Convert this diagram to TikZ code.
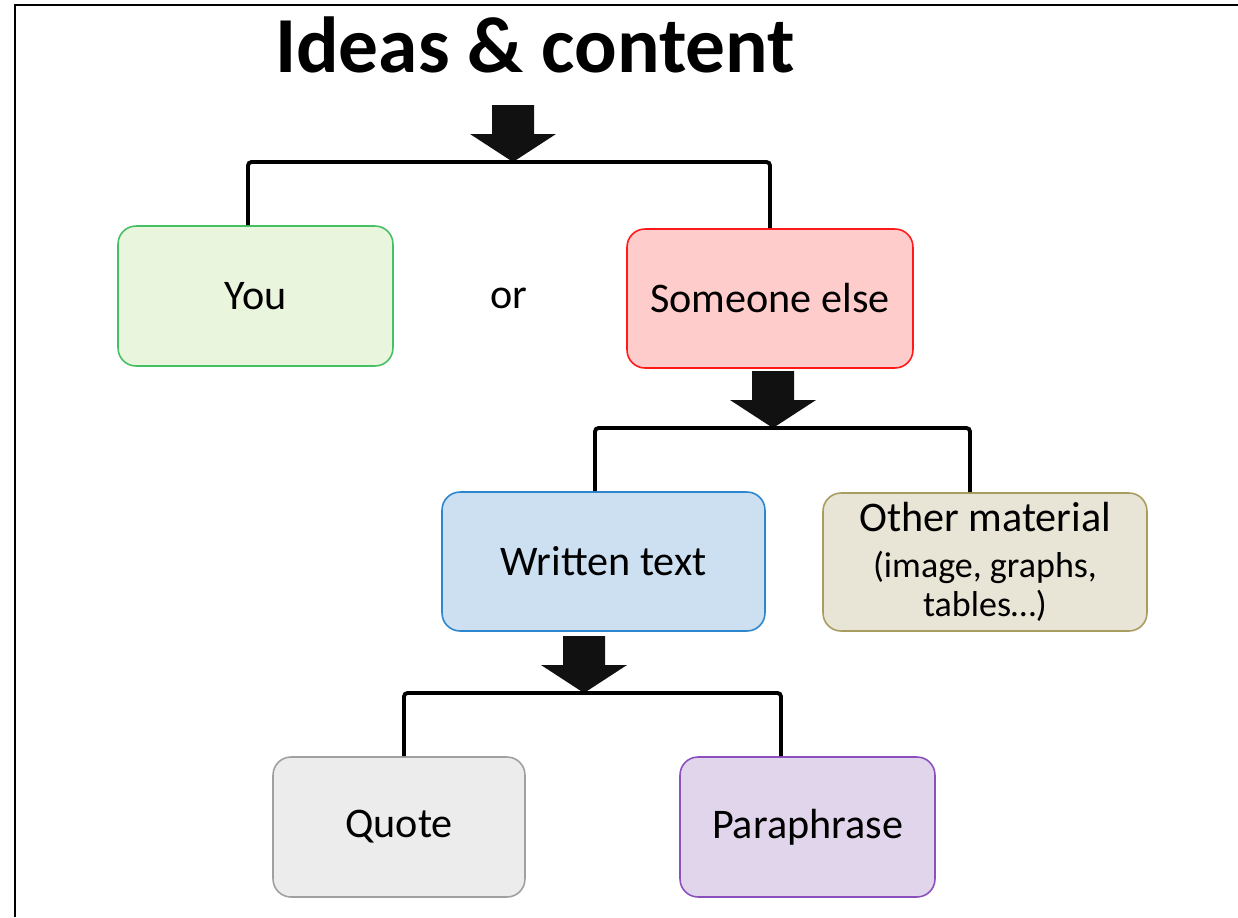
\documentclass[tikz,border=0pt]{standalone}
\usepackage{fontspec}
\setmainfont{Carlito}
\usepackage{tikz}

\definecolor{youfill}{RGB}{233,245,220}
\definecolor{youline}{RGB}{70,192,100}
\definecolor{elsefill}{RGB}{255,204,204}
\definecolor{elseline}{RGB}{255,25,25}
\definecolor{textfill}{RGB}{204,224,242}
\definecolor{textline}{RGB}{46,134,206}
\definecolor{otherfill}{RGB}{233,229,214}
\definecolor{otherline}{RGB}{168,157,96}
\definecolor{quotefill}{RGB}{236,236,236}
\definecolor{quoteline}{RGB}{160,160,160}
\definecolor{parafill}{RGB}{225,213,235}
\definecolor{paraline}{RGB}{140,80,190}
\definecolor{arrowblack}{RGB}{17,17,17}

\newcommand{\boxfont}{\fontsize{24}{26}\selectfont}
\newcommand{\smallfont}{\fontsize{20.5}{22}\selectfont}

\tikzset{
  choice/.style={draw,line width=0.9pt,rounded corners=0.36cm,align=center,font=\boxfont},
  fork/.style={line width=2.2pt,rounded corners=2pt},
  bigarrow/.style={fill=arrowblack}
}

% block arrow, tip at the given point
\newcommand{\blockarrow}[1]{
  \fill[bigarrow] (#1) -- ++(-43,-28) -- ++(22,0) -- ++(0,-29) -- ++(42,0)
    -- ++(0,29) -- ++(22,0) -- cycle;
}

\begin{document}
\begin{tikzpicture}[x=0.02cm,y=-0.02cm]
  \useasboundingbox (0,0) rectangle (1238,917);
  \draw[line width=1.7pt] (15,917) -- (15,5) -- (1238,5);

  \node[anchor=base,font=\fontsize{45.2}{48}\selectfont\bfseries] (title) at (535,72) {Ideas \& content};

  % first level
  \node[choice,fill=youfill,draw=youline,minimum width=5.5cm,minimum height=2.8cm] (you) at (255.5,296) {You};
  \node[font=\boxfont] (or) at (509,298) {or};
  \node[choice,fill=elsefill,draw=elseline,minimum width=5.72cm,minimum height=2.78cm] (else) at (770,298.5) {Someone else};
  \coordinate (fork1) at (513,162);
  \blockarrow{fork1}
  \draw[fork] ([xshift=-0.15cm]you.north) |- (fork1) -| (else.north);

  % second level
  \node[choice,fill=textfill,draw=textline,minimum width=6.46cm,minimum height=2.78cm] (written) at (603.5,561.5) {Written text};
  \node[choice,fill=otherfill,draw=otherline,minimum width=6.48cm,minimum height=2.76cm] (other) at (985,562)
    {Other material\\[0pt] \smallfont (image, graphs,\\[-4pt] \smallfont tables…)};
  \coordinate (fork2) at (773,428);
  \blockarrow{fork2}
  \draw[fork] ([xshift=-0.17cm]written.north) |- (fork2) -| ([xshift=-0.3cm]other.north);

  % third level
  \node[choice,fill=quotefill,draw=quoteline,minimum width=5.04cm,minimum height=2.8cm] (quote) at (399,827) {Quote};
  \node[choice,fill=parafill,draw=paraline,minimum width=5.1cm,minimum height=2.8cm] (para) at (807.5,827) {Paraphrase};
  \coordinate (fork3) at (584,693);
  \blockarrow{fork3}
  \draw[fork] ([xshift=0.1cm]quote.north) |- (fork3) -| ([xshift=-0.53cm]para.north);
\end{tikzpicture}
\end{document}
